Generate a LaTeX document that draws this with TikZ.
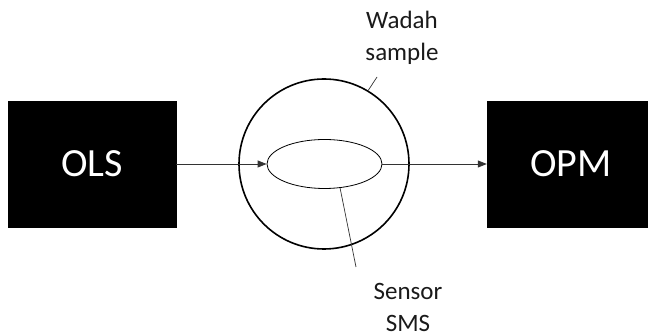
\documentclass[tikz,border=0pt]{standalone}
\usepackage{fontspec}
\setmainfont{Carlito}
\usetikzlibrary{arrows.meta, positioning, shapes.geometric}
\definecolor{ink}{HTML}{1A1A1A}
\tikzset{
  blockbox/.style={draw=black, fill=black, text=white, minimum width=168pt, minimum height=126pt, inner sep=0pt, font=\fontsize{40}{48}\selectfont},
  tag/.style={font=\fontsize{25}{32}\selectfont, text=ink, align=center, inner sep=0pt},
  flow/.style={-{Triangle[length=9pt, width=7pt]}, line width=0.8pt, draw=black!80},
  leader/.style={line width=0.7pt, draw=black!80}
}

\begin{document}
\begin{tikzpicture}[x=1pt,y=1pt]
\useasboundingbox (0,0) rectangle (648,334);

\node[blockbox] (ols) at (92,170) {OLS};
\node[blockbox] (opm) at (571,170) {OPM};

\node[circle, draw, line width=1.6pt, minimum size=170pt, inner sep=0pt] (wadah) at (324,170) {};
\node[ellipse, draw, line width=0.8pt, minimum width=115pt, minimum height=49pt, inner sep=0pt] (sensor) at (324.5,170) {};

\draw[flow] (ols.east) -- (sensor.west);
\draw[flow] (sensor.east) -- (opm.west);

\node[tag] (wadahlabel) at (402,296) {Wadah\\sample};
\coordinate (wadahend) at (377,257);
\draw[leader] (wadah.59) -- (wadahend);

\node[tag] (sensorlabel) at (408,27) {Sensor\\SMS};
\coordinate (sensorend) at (356,67);
\draw[leader] (sensor.-57) -- (sensorend);

\end{tikzpicture}
\end{document}
